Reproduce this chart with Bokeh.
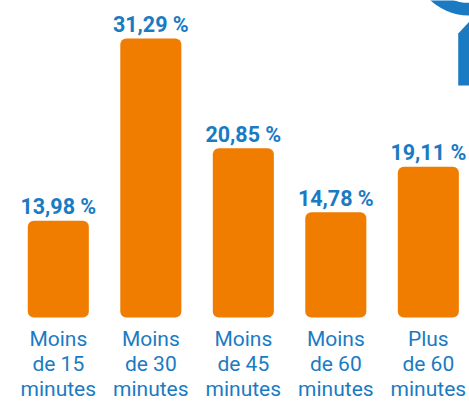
from bokeh.plotting import figure
from bokeh.models import Range1d, ColumnDataSource
from bokeh.core.properties import value
from bokeh.embed import file_html
from bokeh.resources import INLINE

categories = ["Moins\nde 15\nminutes", "Moins\nde 30\nminutes", "Moins\nde 45\nminutes",
              "Moins\nde 60\nminutes", "Plus\nde 60\nminutes"]
values = [13.98, 31.29, 20.85, 14.78, 19.11]
value_labels = ["13,98 %", "31,29 %", "20,85 %", "14,78 %", "19,11 %"]

ORANGE = "#F07C00"
BLUE = "#1A7BC3"
BASE = 4.79  # visual baseline of the bars

xs = list(range(len(values)))
src = ColumnDataSource(dict(x=xs, top=values, lab=value_labels, cat=categories,
                            bottom=[BASE] * len(values)))

p = figure(width=469, height=401, output_backend="svg", toolbar_location=None,
           x_range=Range1d(-0.625, 4.445), y_range=Range1d(-3.19, 34.89),
           min_border=0)
p.axis.visible = False
p.grid.visible = False
p.outline_line_color = None
p.background_fill_color = "white"
p.border_fill_color = "white"

p.vbar(x="x", top="top", bottom="bottom", width=0.66, source=src,
       fill_color=ORANGE, line_color=None, border_radius=6)

p.text(x="x", y="top", text="lab", source=src, text_align="center",
       text_baseline="alphabetic", y_offset=-14, text_color=BLUE,
       text_font=value("Roboto"), text_font_style="bold", text_font_size="21.5px")

p.text(x="x", y="bottom", text="cat", source=src, text_align="center",
       text_baseline="top", y_offset=10, text_color=BLUE,
       text_font=value("Roboto"), text_font_size="21px", text_line_height=1.04)

# decorative logo fragment (top right)
def dx(X):
    return (X - 57.8) / 92.5

def dy(Y):
    return BASE + (317 - Y) / 10.53

logo_x = [dx(457.7), dx(470), dx(470), dx(457.7)]
logo_y = [dy(33), dy(20), dy(85), dy(85)]
p.patch(logo_x, logo_y, fill_color=BLUE, line_color=None)
p.annular_wedge(x=dx(468), y=dy(-40.6), inner_radius=43, outer_radius=55.6,
                inner_radius_units="screen", outer_radius_units="screen",
                start_angle=3.3, end_angle=4.9, fill_color=BLUE, line_color=None)

open("out.html", "w").write(file_html(p, INLINE))
